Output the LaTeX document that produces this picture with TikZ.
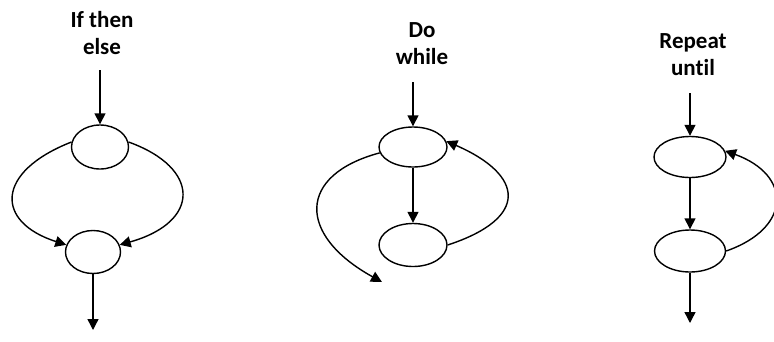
\documentclass[tikz,border=0pt]{standalone}
\usepackage{fontspec}
\setsansfont[Ligatures=NoCommon]{Carlito}
\usetikzlibrary{arrows.meta,shapes.geometric}

\begin{document}
\begin{tikzpicture}[x=1pt, y=-1pt, line width=1.4pt,
    blob/.style={ellipse, draw, minimum width=57pt, minimum height=44pt, inner sep=0pt},
    flow/.style={-{Triangle[length=11pt, width=11pt]}},
    heading/.style={font=\sffamily\bfseries\fontsize{23}{27}\selectfont, align=center}]
    \useasboundingbox (0,0) rectangle (774,341);

    % if then else
    \node[heading] (ifTitle) at (102,33) {If then\\else};
    \coordinate (ifIn) at (100,70);
    \node[blob] (ifTop) at (100,147) {};
    \node[blob, minimum width=55pt, minimum height=43pt] (ifJoin) at (93,252) {};
    \coordinate (ifOut) at (93,330);
    \draw[flow] (ifIn) -- (ifTop);
    \draw[flow] (ifTop.170) .. controls (-5,172) and (-5,222) .. (ifJoin.165);
    \draw[flow] (ifTop.10) .. controls (201,168) and (201,222) .. (ifJoin.15);
    \draw[flow] (ifJoin) -- (ifOut);

    % do while
    \node[heading] (dwTitle) at (422,44) {Do\\while};
    \coordinate (dwIn) at (413,82);
    \node[blob, minimum width=68pt, minimum height=40pt] (dwTop) at (413,147) {};
    \node[blob, minimum width=68pt, minimum height=43pt] (dwBody) at (413,245) {};
    \coordinate (dwExit) at (382,282);
    \draw[flow] (dwIn) -- (dwTop);
    \draw[flow] (dwTop) -- (dwBody);
    \draw[flow] (dwTop.190) .. controls (297,175) and (297,235) .. (dwExit);
    \draw[flow] (dwBody.east) .. controls (530,218) and (524,175) .. (dwTop.10);

    % repeat until
    \node[heading] (ruTitle) at (693,55) {Repeat\\until};
    \coordinate (ruIn) at (690,93);
    \node[blob, minimum width=72pt, minimum height=41pt] (ruTop) at (690,157) {};
    \node[blob, minimum width=71pt, minimum height=42pt] (ruBody) at (690,251) {};
    \coordinate (ruOut) at (690,323);
    \draw[flow] (ruIn) -- (ruTop);
    \draw[flow] (ruTop) -- (ruBody);
    \draw[flow] (ruBody.east) .. controls (792,228) and (792,175) .. (ruTop.10);
    \draw[flow] (ruBody) -- (ruOut);
\end{tikzpicture}
\end{document}
